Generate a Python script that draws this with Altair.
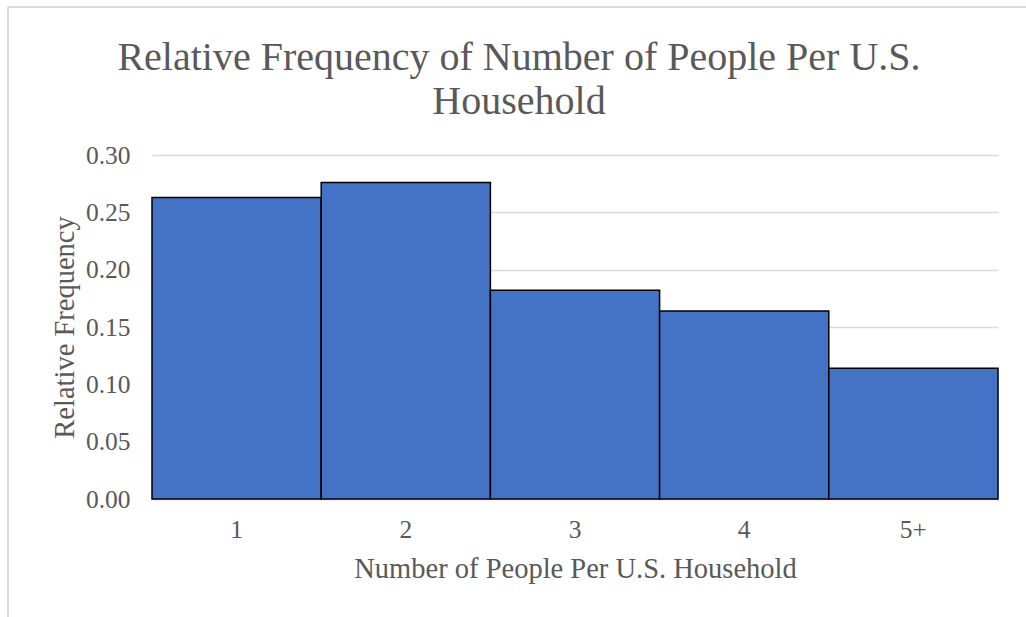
import altair as alt
import pandas as pd

categories = ["1", "2", "3", "4", "5+"]
rel_freq = [0.263, 0.276, 0.182, 0.164, 0.114]
y_ticks = [0.0, 0.05, 0.10, 0.15, 0.20, 0.25, 0.30]

df = pd.DataFrame({"people": categories, "freq": rel_freq})

FONT = "Liberation Serif"
GRAY = "#595959"

bars = alt.Chart(df).mark_bar(
    color="#4472C4", stroke="#000000", strokeWidth=1.5
).encode(
    x=alt.X(
        "people:O",
        sort=categories,
        scale=alt.Scale(paddingInner=0, paddingOuter=0),
        axis=alt.Axis(
            title="Number of People Per U.S. Household",
            labelAngle=0,
            ticks=False,
            domain=True,
            domainColor="#d9d9d9",
            domainWidth=1.5,
            labelPadding=18,
            titlePadding=12,
        ),
    ),
    y=alt.Y(
        "freq:Q",
        scale=alt.Scale(domain=[0, 0.30], nice=False),
        axis=alt.Axis(
            title="Relative Frequency",
            values=y_ticks,
            format=".2f",
            ticks=False,
            domain=False,
            grid=True,
            gridColor="#d9d9d9",
            gridWidth=1.5,
            labelPadding=22,
            titlePadding=6,
        ),
    ),
)

frame_top = alt.Chart(df).mark_rule(color="#d9d9d9", strokeWidth=1.5).encode(
    x=alt.value(-144), x2=alt.value(900), y=alt.value(-148)
)
frame_left = alt.Chart(df).mark_rule(color="#d9d9d9", strokeWidth=1.5).encode(
    x=alt.value(-144), y=alt.value(-148), y2=alt.value(470)
)

chart = alt.layer(frame_top, frame_left, bars).properties(
    width=846,
    height=344,
    padding={"left": 152, "top": 155, "right": 28, "bottom": 118},
    autosize="none",
    title=alt.TitleParams(
        text=["Relative Frequency of Number of People Per U.S.", "Household"],
        font=FONT,
        fontSize=40,
        fontWeight="normal",
        color=GRAY,
        anchor="middle",
        dx=-56,
        offset=-116,
        lineHeight=44,
    ),
).configure_axis(
    labelFont=FONT,
    labelFontSize=25.5,
    labelColor=GRAY,
    titleFont=FONT,
    titleFontSize=28.5,
    titleFontWeight="normal",
    titleColor=GRAY,
).configure_view(stroke=None)

chart.save("out.html", embed_options={"renderer": "svg", "actions": False})
